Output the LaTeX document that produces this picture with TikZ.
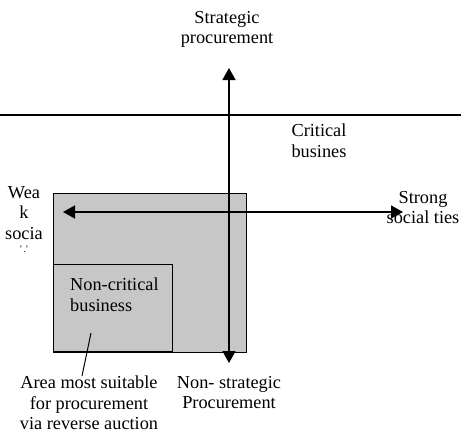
\documentclass[tikz,border=0pt]{standalone}
\usepackage{fontspec}
\setmainfont{Liberation Serif}
\usetikzlibrary{arrows.meta}
\begin{document}
\begin{tikzpicture}[x=1pt,y=-1pt,
  lbl/.style={font=\fontsize{18.3}{20.5}\selectfont, inner sep=0pt, align=center, anchor=north},
  tip/.style={Triangle[length=12pt,width=13pt]},
  axis/.style={line width=1.5pt, {Triangle[length=12pt,width=13pt]}-{Triangle[length=12pt,width=13pt]}},
  box/.style={draw, line width=1.4pt, fill=black!22, inner sep=0pt},
  divider/.style={line width=1.3pt}]
\useasboundingbox (0,0) rectangle (461,434);
% divider line
\coordinate (divL) at (0,115);
\coordinate (divR) at (461,115);
\draw[divider] (divL) -- (divR);
% boxes
\node[box, anchor=north west, minimum width=193pt, minimum height=159pt] (outer) at (53,193) {};
\node[box, anchor=south west, minimum width=119pt, minimum height=87pt] (inner) at (53,352) {};
% labels
\node[lbl] (strat) at (227,11) {Strategic\\procurement};
\node[lbl] (crit) at (319,124) {Critical\\busines};
\node[lbl] (strong) at (423,191) {Strong\\social ties};
\node[lbl] (weak) at (24,186) {Wea\\k\\socia\\[-7pt]{\fontsize{10}{10}\selectfont\textquotesingle\,.\textquotesingle}};
\node[lbl, align=left, anchor=north west] (noncrit) at (70,278) {Non-critical\\business};
\node[lbl] (area) at (89,376) {Area most suitable\\for procurement\\via reverse auction};
\node[lbl] (nonstrat) at (229,376) {Non- strategic\\Procurement};
% axes
\coordinate (vtop) at (229,68);
\coordinate (vbot) at (229,363);
\coordinate (hleft) at (63,212);
\coordinate (hright) at (403,212);
\draw[axis] (vbot) -- (vtop);
\draw[axis] (hleft) -- (hright);
% leader
\coordinate (lead) at (91,333);
\draw[line width=1pt] (lead) -- ([xshift=-7pt]area.north);
\end{tikzpicture}
\end{document}
